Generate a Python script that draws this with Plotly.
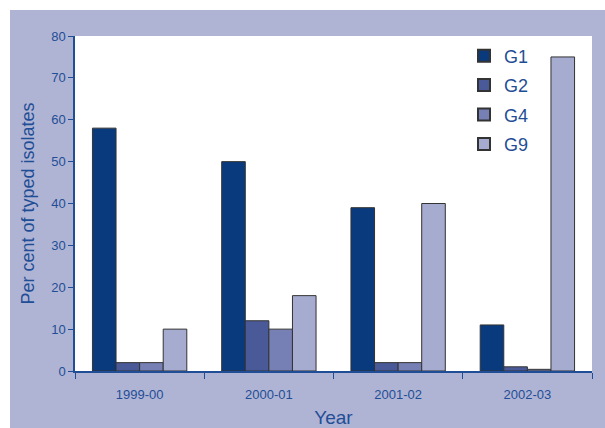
import plotly.graph_objects as go

years = ["1999-00", "2000-01", "2001-02", "2002-03"]
series_names = ["G1", "G2", "G4", "G9"]
g1 = [58, 50, 39, 11]
g2 = [2, 12, 2, 1]
g4 = [2, 10, 2, 0.4]
g9 = [10, 18, 40, 75]
colors = ["#0a3a7e", "#4a5a98", "#7680b4", "#a6abd0"]
y_ticks = [0, 10, 20, 30, 40, 50, 60, 70, 80]

BG = "#b0b4d4"
TXT = "#1f4e96"
AX = "#1f4e96"

fig = go.Figure()
for name, vals, c in zip(series_names, [g1, g2, g4, g9], colors):
    fig.add_trace(go.Bar(x=years, y=vals, name=name, legendgroup=name, marker_color=c,
                         marker_line=dict(color="#333333", width=1)))

W, H = 605, 428
ml, mr, mt, mb = 75, 13, 36, 57
pw = W - ml - mr
ph = H - mt - mb
edge = 10

fig.update_layout(
    autosize=True,
    margin=dict(l=ml, r=mr, t=mt, b=mb, autoexpand=False),
    paper_bgcolor=BG, plot_bgcolor="white",
    barmode="group", bargap=0.27, bargroupgap=0,
    font=dict(family="Liberation Sans, Arial", color=TXT),
    showlegend=True,
    legend=dict(x=(464 - ml) / pw, y=(H - mb - 37.5) / ph, xanchor="left", yanchor="top",
                bgcolor="rgba(0,0,0,0)", font=dict(size=18, color=TXT),
                itemsizing="constant", tracegroupgap=3),
    xaxis=dict(type="category", showline=True, linecolor=AX, linewidth=1.5,
               ticks="outside", tickson="boundaries", ticklen=6, tickcolor=AX,
               ticklabelstandoff=11, automargin=False,
               tickfont=dict(size=13, color=TXT), showgrid=False,
               title=dict(text="Year", font=dict(size=19, color=TXT), standoff=11)),
    yaxis=dict(range=[0, 80], tickvals=y_ticks, showline=True, linecolor=AX, linewidth=1.5,
               ticks="outside", ticklen=5, tickcolor=AX, showgrid=False, zeroline=False,
               automargin=False,
               tickfont=dict(size=13, color=TXT),
               title=dict(text="Per cent of typed isolates", font=dict(size=18, color=TXT), standoff=12)),
    shapes=[
        dict(type="rect", xref="paper", yref="paper", x0=-ml / pw - 0.05, x1=1 + mr / pw + 0.05,
             y0=1 + (mt - edge) / ph, y1=1 + mt / ph + 0.05, fillcolor="white", line_width=0, layer="below"),
        dict(type="rect", xref="paper", yref="paper", x0=-ml / pw - 0.05, x1=-(ml - edge) / pw,
             y0=-mb / ph - 0.05, y1=1 + mt / ph + 0.05, fillcolor="white", line_width=0, layer="below"),
    ],
)

pre = "document.body.style.margin='0';document.body.style.overflow='hidden';"
fig.write_html("out.html", default_width="100vw", default_height="100vh",
               config=dict(displayModeBar=False, responsive=True),
               post_script=pre)
